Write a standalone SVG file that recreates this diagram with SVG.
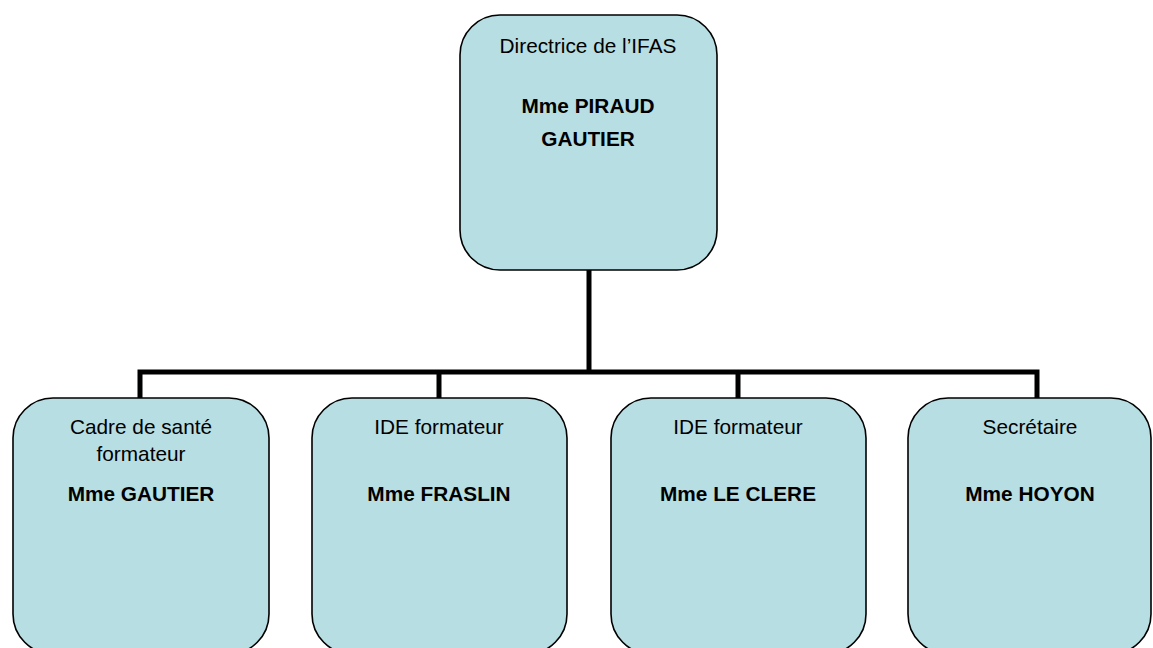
<svg xmlns="http://www.w3.org/2000/svg" width="1153" height="648" viewBox="0 0 1153 648">
<style>
.box{fill:#b7dee3;stroke:#000;stroke-width:1.6}
.t{font-family:"Liberation Sans",Arial,sans-serif;font-size:20.8px;fill:#000;text-anchor:middle}
.b{font-weight:bold}
.c{fill:none;stroke:#000;stroke-width:5;stroke-linejoin:miter}
</style>
<rect width="1153" height="648" fill="#fff"/>
<g id="connectors">
<path class="c" d="M589 270 V372"/>
<path class="c" d="M140 398 V372 H1037 V398"/>
<path class="c" d="M439 372 V398"/>
<path class="c" d="M738 372 V398"/>
</g>
<g id="directrice">
<rect class="box" x="460" y="15" width="257" height="255" rx="40"/>
<text class="t" x="588" y="53">Directrice de l’IFAS</text>
<text class="t b" x="588" y="113">Mme PIRAUD</text>
<text class="t b" x="588" y="146">GAUTIER</text>
</g>
<g id="cadre">
<rect class="box" x="13" y="398" width="256" height="256" rx="40"/>
<text class="t" x="141" y="434">Cadre de santé</text>
<text class="t" x="141" y="461">formateur</text>
<text class="t b" x="141" y="501">Mme GAUTIER</text>
</g>
<g id="ide1">
<rect class="box" x="312" y="398" width="255" height="256" rx="40"/>
<text class="t" x="439" y="434">IDE formateur</text>
<text class="t b" x="439" y="501">Mme FRASLIN</text>
</g>
<g id="ide2">
<rect class="box" x="611" y="398" width="255" height="256" rx="40"/>
<text class="t" x="738" y="434">IDE formateur</text>
<text class="t b" x="738" y="501">Mme LE CLERE</text>
</g>
<g id="secretaire">
<rect class="box" x="908" y="398" width="243" height="256" rx="40"/>
<text class="t" x="1030" y="434">Secrétaire</text>
<text class="t b" x="1030" y="501">Mme HOYON</text>
</g>
</svg>
